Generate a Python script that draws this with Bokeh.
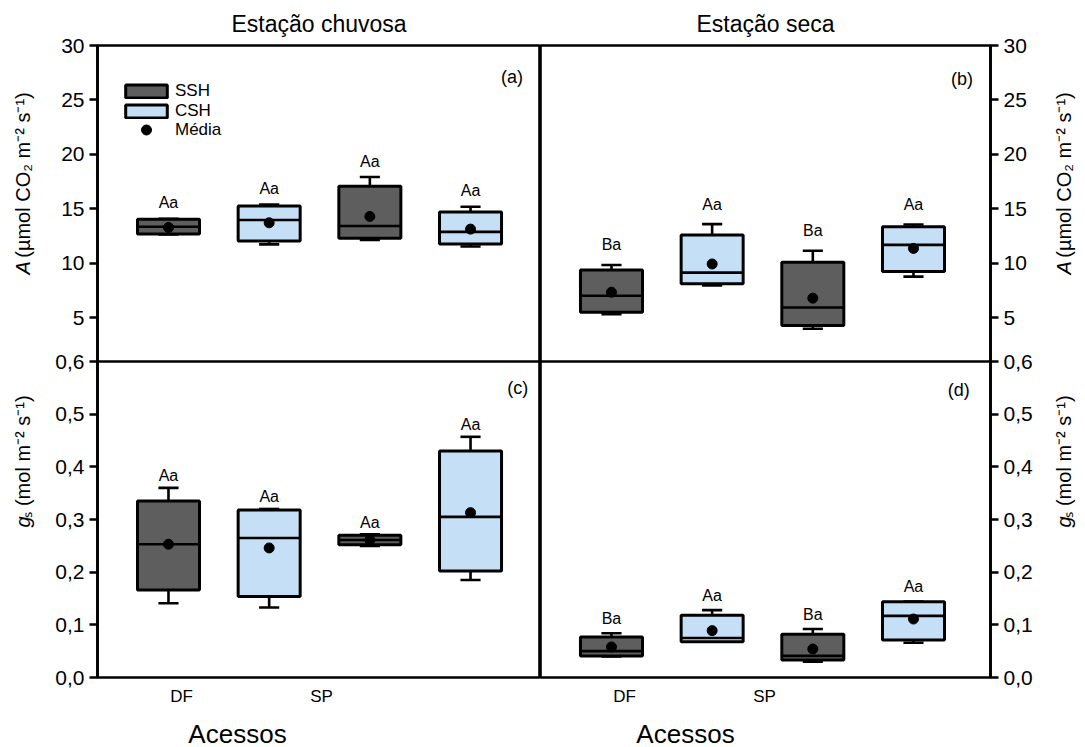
import math
from bokeh.plotting import figure
from bokeh.layouts import row, column
from bokeh.models import (ColumnDataSource, Range1d, FixedTicker, Legend, LegendItem,
                          CDSView, GroupFilter, CustomJSTickFormatter, Span)
from bokeh.core.properties import value
from bokeh.embed import file_html
from bokeh.resources import INLINE

# ---- data ---------------------------------------------------------------
accessions = ["DF", "DF", "SP", "SP"]
treatments = ["SSH", "CSH", "SSH", "CSH"]
positions = [1, 2, 3, 4]

# (a) A, rainy season
a_low = [12.65, 11.75, 12.15, 11.55]
a_q1 = [12.70, 12.06, 12.30, 11.78]
a_med = [13.37, 13.98, 13.43, 12.90]
a_q3 = [14.05, 15.26, 17.08, 14.73]
a_high = [14.10, 15.40, 17.93, 15.20]
a_mean = [13.30, 13.73, 14.31, 13.15]
a_letters = ["Aa", "Aa", "Aa", "Aa"]

# (b) A, dry season
b_low = [5.35, 7.97, 4.01, 8.79]
b_q1 = [5.53, 8.13, 4.30, 9.25]
b_med = [7.03, 9.16, 5.96, 11.70]
b_q3 = [9.40, 12.60, 10.10, 13.36]
b_high = [9.86, 13.61, 11.17, 13.57]
b_mean = [7.36, 9.95, 6.81, 11.38]
b_letters = ["Ba", "Aa", "Ba", "Aa"]

# (c) gs, rainy season
c_low = [0.141, 0.133, 0.250, 0.185]
c_q1 = [0.166, 0.154, 0.252, 0.202]
c_med = [0.253, 0.265, 0.261, 0.305]
c_q3 = [0.335, 0.318, 0.270, 0.430]
c_high = [0.360, 0.320, 0.272, 0.457]
c_mean = [0.253, 0.246, 0.261, 0.313]
c_letters = ["Aa", "Aa", "Aa", "Aa"]

# (d) gs, dry season
d_low = [0.040, 0.068, 0.030, 0.066]
d_q1 = [0.041, 0.068, 0.033, 0.071]
d_med = [0.050, 0.075, 0.041, 0.117]
d_q3 = [0.077, 0.118, 0.082, 0.144]
d_high = [0.084, 0.128, 0.092, 0.144]
d_mean = [0.058, 0.089, 0.054, 0.111]
d_letters = ["Ba", "Aa", "Ba", "Aa"]

A_ticks = [5, 10, 15, 20, 25, 30]
gs_ticks = [0.0, 0.1, 0.2, 0.3, 0.4, 0.5, 0.6]
access_tick_pos = [1.13, 2.52]

seasons = ["Estação chuvosa", "Estação seca"]
# axis titles: italic symbol followed by the unit text
A_label = ("A", "(µmol CO₂ m⁻² s⁻¹)")
gs_label = ("g", "ₛ (mol m⁻² s⁻¹)")
x_title = "Acessos"

# ---- styling ------------------------------------------------------------
SSH_COLOR = "#5e5e5e"
CSH_COLOR = "#c5dff7"
FONT = "Liberation Sans"
NARROW = "'Liberation Sans Narrow', 'Liberation Sans', sans-serif"
BOX_W = 0.616
CAP_W = 0.2
LW = 2.6

# the A panel sits on the upper half of each column, gs on the lower half
A_LOW, A_HIGH = 1.0, 30.0
GS_HIGH = 0.6
COL_H = 712
TOP_B, BOT_B = 43, 35
TITLE_PX = 20


def stats_source(low, q1, med, q3, high, mean, letters):
    return ColumnDataSource(dict(
        x=positions, acc=accessions, trat=treatments,
        low=low, q1=q1, med=med, q3=q3, high=high, mean=mean, letter=letters,
        bl=[v - BOX_W / 2 for v in positions], br=[v + BOX_W / 2 for v in positions],
        cl=[v - CAP_W / 2 for v in positions], cr=[v + CAP_W / 2 for v in positions],
    ))


def draw_boxes(p, src, range_name, letter_gap):
    kw = {} if range_name is None else {"y_range_name": range_name}
    for lo_col, hi_col in (("q3", "high"), ("q1", "low")):
        p.segment(x0="x", y0=lo_col, x1="x", y1=hi_col, source=src,
                  line_color="black", line_width=LW, **kw)
        p.segment(x0="cl", y0=hi_col, x1="cr", y1=hi_col, source=src,
                  line_color="black", line_width=LW, **kw)
    rends = {}
    for trat, color in (("SSH", SSH_COLOR), ("CSH", CSH_COLOR)):
        rends[trat] = p.vbar(x="x", width=BOX_W, bottom="q1", top="q3", source=src,
                             view=CDSView(filter=GroupFilter(column_name="trat", group=trat)),
                             fill_color=color, line_color="black", line_width=LW + 0.4, **kw)
    p.segment(x0="bl", y0="med", x1="br", y1="med", source=src,
              line_color="black", line_width=LW, **kw)
    rends["mean"] = p.scatter(x="x", y="mean", source=src, size=10, color="black", **kw)
    p.text(x="x", y="high", text="letter", source=src, y_offset=-letter_gap,
           text_align="center", text_baseline="middle", text_font=value(FONT),
           text_font_size="16px", text_color="black", **kw)
    return rends


def tag(p, x, y, text, range_name=None):
    kw = {} if range_name is None else {"y_range_name": range_name}
    p.text(x=[x], y=[y], text=[text], text_align="center", text_baseline="middle",
           text_font=value(FONT), text_font_size="18px", text_color="black", **kw)


def column_fig(left_side, title, top_stats, bot_stats, top_gap, bot_gap, tags, legend=False):
    width = 495 if left_side else 505
    xr = (0.295, 4.695) if left_side else (0.295, 4.765)
    # gs (default) range: 0..0.6 fills the lower half of the frame
    p = figure(width=width, height=COL_H, output_backend="svg", toolbar_location=None,
               title=title, x_range=Range1d(*xr), y_range=Range1d(0, 2 * GS_HIGH),
               y_axis_location="left" if left_side else "right")
    p.extra_y_ranges = {"A": Range1d(A_LOW - (A_HIGH - A_LOW), A_HIGH)}
    p.min_border_left = 52 if left_side else 0
    p.min_border_right = 0 if left_side else 55
    p.min_border_top = TOP_B
    p.min_border_bottom = BOT_B
    p.background_fill_color = "white"
    p.border_fill_color = "white"
    p.outline_line_color = "black"
    p.outline_line_width = LW
    p.xgrid.visible = False
    p.ygrid.visible = False

    p.title.align = "center"
    p.title.text_font = FONT
    p.title.text_font_size = "23px"
    p.title.text_font_style = "normal"
    p.title.text_color = "black"
    p.title.standoff = 17

    # one axis carries both scales: gs ticks below, A ticks above the divider
    scale = GS_HIGH / (A_HIGH - A_LOW)
    yax = p.yaxis[0]
    yax.ticker = FixedTicker(ticks=gs_ticks + [GS_HIGH + (v - A_LOW) * scale for v in A_ticks])
    yax.formatter = CustomJSTickFormatter(args=dict(g=GS_HIGH, lo=A_LOW, hi=A_HIGH), code="""
        if (tick <= g + 1e-9) return tick.toFixed(1).replace('.', ',');
        return String(Math.round(lo + (tick - g) * (hi - lo) / g));
    """)
    yax.minor_tick_line_color = None
    yax.major_tick_in = 0
    yax.major_tick_out = 8
    yax.major_tick_line_width = LW
    yax.axis_line_width = LW
    yax.major_label_text_font = FONT
    yax.major_label_text_font_size = "21px"
    yax.major_label_text_color = "black"
    yax.major_label_standoff = 5

    xax = p.xaxis[0]
    xax.ticker = FixedTicker(ticks=access_tick_pos)
    xax.formatter = CustomJSTickFormatter(code="return tick < 2 ? 'DF' : 'SP';")
    xax.major_tick_line_color = None
    xax.minor_tick_line_color = None
    xax.major_tick_out = 0
    xax.major_tick_in = 0
    xax.axis_line_color = None
    xax.major_label_text_font = NARROW
    xax.major_label_text_font_size = "17px"
    xax.major_label_text_color = "black"
    xax.major_label_standoff = 9

    p.add_layout(Span(location=GS_HIGH, dimension="width", line_color="black", line_width=LW))

    r_top = draw_boxes(p, stats_source(*top_stats), "A", top_gap)
    draw_boxes(p, stats_source(*bot_stats), None, bot_gap)
    (tx, ty, tt), (bx, by, bt) = tags
    tag(p, tx, ty, tt, "A")
    tag(p, bx, by, bt)

    if legend:
        common = dict(padding=0, margin=0, border_line_color=None,
                      background_fill_alpha=0, label_text_font=FONT,
                      label_text_font_size="17px", label_text_color="black",
                      label_standoff=3, glyph_width=52, spacing=0)
        p.add_layout(Legend(items=[LegendItem(label="SSH", renderers=[r_top["SSH"]]),
                                   LegendItem(label="CSH", renderers=[r_top["CSH"]])],
                            location=(23, 556), glyph_height=16, label_height=16, **common))
        p.add_layout(Legend(items=[LegendItem(label="Média", renderers=[r_top["mean"]])],
                            location=(23, 535), glyph_height=25, label_height=25, **common))
    return p


def strip(width, height):
    s = figure(width=width, height=height, output_backend="svg", toolbar_location=None,
               x_range=Range1d(0, width), y_range=Range1d(0, height),
               x_axis_location=None, y_axis_location=None)
    s.min_border_left = s.min_border_right = s.min_border_top = s.min_border_bottom = 0
    s.outline_line_color = None
    s.xgrid.visible = False
    s.ygrid.visible = False
    s.background_fill_color = "white"
    s.border_fill_color = "white"
    return s


def vertical_title(s, x_center, y_start, parts, sym_w):
    """Rotated title reading upwards from y_start: italic symbol, then units."""
    sym, rest = parts
    s.text(x=[x_center], y=[y_start], text=[sym], angle=math.pi / 2,
           text_align="left", text_baseline="middle", text_font=value(FONT),
           text_font_style="italic", text_font_size=f"{TITLE_PX}px", text_color="black")
    s.text(x=[x_center], y=[y_start + sym_w], text=[rest], angle=math.pi / 2,
           text_align="left", text_baseline="middle", text_font=value(FONT),
           text_font_size=f"{TITLE_PX}px", text_color="black")


# widths of the italic symbols plus the following blank, in pixels
A_SYM_W = (0.667 + 0.278) * TITLE_PX
G_SYM_W = 0.556 * TITLE_PX

left = column_fig(True, seasons[0],
                  (a_low, a_q1, a_med, a_q3, a_high, a_mean, a_letters),
                  (c_low, c_q1, c_med, c_q3, c_high, c_mean, c_letters),
                  16, 12, ((4.413, 27.1, "(a)"), (4.47, 0.549, "(c)")), legend=True)
right = column_fig(False, seasons[1],
                   (b_low, b_q1, b_med, b_q3, b_high, b_mean, b_letters),
                   (d_low, d_q1, d_med, d_q3, d_high, d_mean, d_letters),
                   20, 15, ((4.483, 26.94, "(b)"), (4.449, 0.546, "(d)")))

# axis titles (strip coordinates are pixels, measured upwards)
left_strip = strip(45, COL_H)
vertical_title(left_strip, 22, COL_H - 258, A_label, A_SYM_W)
vertical_title(left_strip, 22, COL_H - 543, gs_label, G_SYM_W)
right_strip = strip(40, COL_H)
vertical_title(right_strip, 18, COL_H - 258, A_label, A_SYM_W)
vertical_title(right_strip, 18, COL_H - 543, gs_label, G_SYM_W)

bottom_strip = strip(1085, 747 - COL_H)
bottom_strip.text(x=[237, 685], y=[747 - COL_H - 21] * 2, text=[x_title, x_title],
                  text_align="center", text_baseline="middle", text_font=value(NARROW),
                  text_font_size="26px", text_color="black")

layout = column(row(left_strip, left, right, right_strip), bottom_strip)

with open("out.html", "w") as f:
    f.write(file_html(layout, INLINE))
